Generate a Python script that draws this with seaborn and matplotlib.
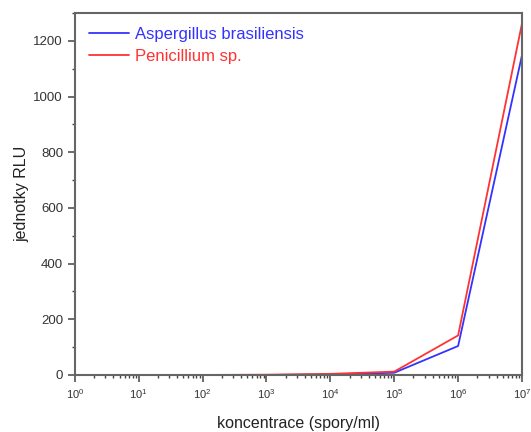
import numpy as np
import pandas as pd
import matplotlib
matplotlib.use("Agg")
import matplotlib.pyplot as plt
import seaborn as sns
from matplotlib.ticker import LogLocator, MultipleLocator, NullFormatter

sns.set_theme(style="ticks")
plt.rcParams['font.family'] = ['Liberation Sans', 'DejaVu Sans']

concentration = [1e2, 1e3, 1e4, 1e5, 1e6, 1e7]
aspergillus = [0, 0, 2, 8, 104, 1148]
penicillium = [0, 1, 4, 12, 142, 1262]
series_names = ["Aspergillus brasiliensis", "Penicillium sp."]

df = pd.DataFrame({
    "konc": concentration * 2,
    "rlu": aspergillus + penicillium,
    "druh": [series_names[0]] * len(concentration) + [series_names[1]] * len(concentration),
})

fig = plt.figure(figsize=(5.31, 4.32), dpi=100)
ax = fig.add_axes([0.141, 0.132, 0.842, 0.838])
sns.lineplot(data=df, x="konc", y="rlu", hue="druh", palette=["#3333ff", "#ff3333"],
             ax=ax, linewidth=1.3, legend=True)
ax.set_xscale("log")
ax.set_xlim(1, 1e7)
ax.set_ylim(0, 1300)
ax.xaxis.set_major_locator(LogLocator(base=10, numticks=10))
ax.xaxis.set_minor_locator(LogLocator(base=10, subs=np.arange(2, 10), numticks=10))
ax.xaxis.set_minor_formatter(NullFormatter())
ax.yaxis.set_major_locator(MultipleLocator(200))
ax.yaxis.set_minor_locator(MultipleLocator(100))
ax.tick_params(axis="both", which="major", labelsize=9.5, length=5, width=1.1, color="#444444",
               labelcolor="#333333")
ax.tick_params(axis="both", which="minor", length=2.5, width=1.0, color="#444444")
ax.tick_params(axis="x", which="major", labelsize=8)
for s in ax.spines.values():
    s.set_color("#666666")
    s.set_linewidth(1.5)
ax.set_xlabel("koncentrace (spory/ml)", fontsize=11.5, labelpad=11, color="#222222")
ax.set_ylabel("jednotky RLU", fontsize=11.5, labelpad=3, color="#222222")
leg = ax.legend(loc="upper left", frameon=False, fontsize=12, handlelength=2.4,
                borderaxespad=0.3, borderpad=0.55, handletextpad=0.35, labelspacing=0.4)
for text, c in zip(leg.get_texts(), ["#3333ff", "#ff3333"]):
    text.set_color(c)
fig.savefig("out.png", dpi=100)
